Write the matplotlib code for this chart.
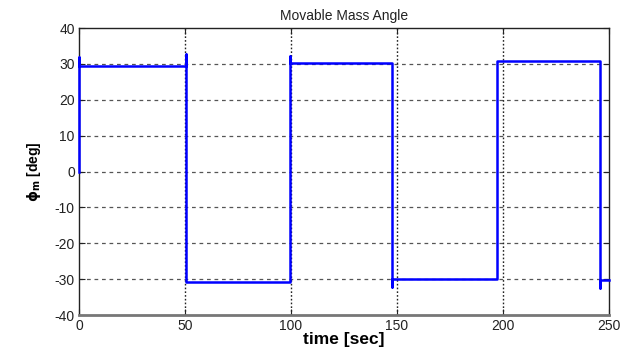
import matplotlib.pyplot as plt
import numpy as np

plt.rcParams['font.family'] = ['Liberation Sans', 'DejaVu Sans']
plt.rcParams['axes.unicode_minus'] = False

# movable mass angle trace, vertical jumps repeat the time
t_sec = [0, 0, 0,
         50.3, 50.3, 50.3,
         99.6, 99.6, 99.6,
         147.8, 147.8, 147.8,
         197.3, 197.3,
         245.6, 245.6, 245.6,
         250]
phi_deg = [0, 32.0, 29.5,
           29.5, 32.7, -30.8,
           -30.8, 32.3, 30.2,
           30.2, -32.3, -30.0,
           -30.0, 30.7,
           30.7, -32.4, -30.2,
           -30.2]

x_ticks = [0, 50, 100, 150, 200, 250]
y_ticks = [-40, -30, -20, -10, 0, 10, 20, 30, 40]

fig = plt.figure(figsize=(6.33, 3.47), dpi=100)
ax = fig.add_axes([0.1248, 0.0922, 0.8372, 0.8268])

ax.plot(t_sec, phi_deg, color='#0000ff', linewidth=1.8, zorder=3, clip_on=False)

ax.set_xlim(0, 250)
ax.set_ylim(-40, 40)
ax.set_xticks(x_ticks)
ax.set_yticks(y_ticks)

# grid: horizontal dashed, vertical dotted (as rendered in the figure)
for y in y_ticks[1:-1]:
    ax.axhline(y, color='#555555', linestyle=(0, (3, 3)), linewidth=0.9, zorder=1)
for x in x_ticks[1:-1]:
    ax.axvline(x, color='#222222', linestyle=(0, (1.2, 1.5)), linewidth=1.0, zorder=1)

ax.tick_params(direction='in', length=4, labelsize=10, colors='#222222',
               top=True, right=True, pad=3)
for lab in ax.get_xticklabels() + ax.get_yticklabels():
    lab.set_color('#222222')

for side in ['left', 'top', 'right']:
    ax.spines[side].set_color('#222222')
    ax.spines[side].set_linewidth(1.0)
ax.spines['bottom'].set_color('#777777')
ax.spines['bottom'].set_linewidth(2.0)

ax.set_title('Movable Mass Angle', fontsize=10, pad=6, color='#222222')
ax.set_xlabel('time [sec]', fontsize=12.5, fontweight='bold', labelpad=-1)
ax.set_ylabel(r'$\mathbf{\phi_m}$ [deg]', fontsize=10, fontweight='bold', labelpad=8)

plt.savefig('out.png', dpi=100)
plt.close()
